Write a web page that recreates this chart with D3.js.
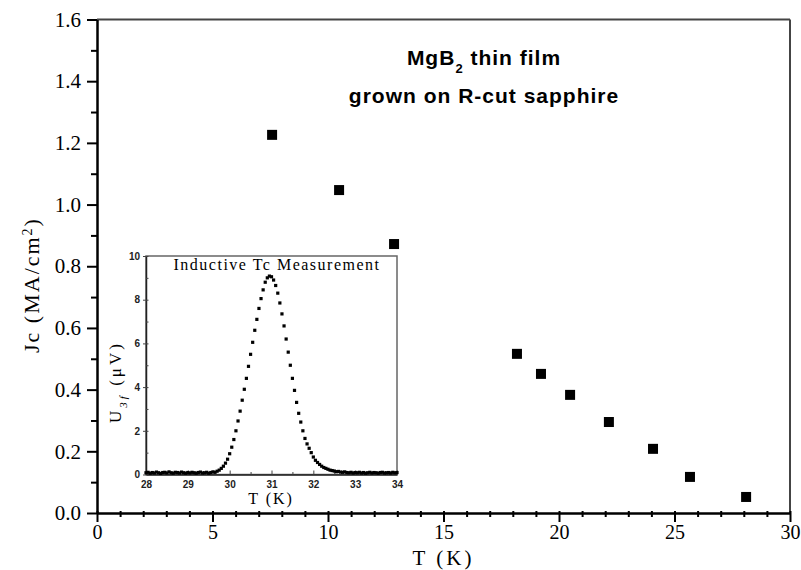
<!DOCTYPE html>
<html>
<head>
<meta charset="utf-8">
<script src="https://cdn.jsdelivr.net/npm/d3@7"></script>
<style>
  body { margin: 0; background: #fff; }
  svg { display: block; }
</style>
</head>
<body>
<div id="chart"></div>
<script>
// Main data: Jc vs T
const temps = [7.58, 10.48, 12.86, 18.18, 19.22, 20.48, 22.16, 24.07, 25.67, 28.1];
const jc = [1.226, 1.047, 0.872, 0.516, 0.451, 0.383, 0.295, 0.208, 0.117, 0.052];

// Inset data: U3f vs T
const insetT = [
  28.00, 28.05, 28.10, 28.15, 28.20, 28.25, 28.30, 28.35, 28.40, 28.45, 28.50, 28.55, 28.60, 28.65, 28.70, 28.75, 28.80, 28.85, 28.90, 28.95,
  29.00, 29.05, 29.10, 29.15, 29.20, 29.25, 29.30, 29.35, 29.40, 29.45, 29.50, 29.55, 29.60, 29.65, 29.70, 29.75, 29.80, 29.85, 29.90, 29.95,
  30.00, 30.05, 30.10, 30.15, 30.20, 30.25, 30.30, 30.35, 30.40, 30.45, 30.50, 30.55, 30.60, 30.65, 30.70, 30.75, 30.80, 30.85, 30.90, 30.95,
  31.00, 31.05, 31.10, 31.15, 31.20, 31.25, 31.30, 31.35, 31.40, 31.45, 31.50, 31.55, 31.60, 31.65, 31.70, 31.75, 31.80, 31.85, 31.90, 31.95,
  32.00, 32.05, 32.10, 32.15, 32.20, 32.25, 32.30, 32.35, 32.40, 32.45, 32.50, 32.55, 32.60, 32.65, 32.70, 32.75, 32.80, 32.85, 32.90, 32.95,
  33.00, 33.05, 33.10, 33.15, 33.20, 33.25, 33.30, 33.35, 33.40, 33.45, 33.50, 33.55, 33.60, 33.65, 33.70, 33.75, 33.80, 33.85, 33.90, 33.95, 34.00
];
const insetU = [
  0.08, 0.10, 0.06, 0.09, 0.07, 0.11, 0.08, 0.05, 0.09, 0.10, 0.07, 0.12, 0.08, 0.06, 0.10, 0.09, 0.07, 0.11, 0.08, 0.06,
  0.09, 0.07, 0.10, 0.08, 0.06, 0.09, 0.11, 0.07, 0.08, 0.10, 0.06, 0.09, 0.12, 0.10, 0.15, 0.20, 0.28, 0.38, 0.52, 0.70,
  0.95, 1.25, 1.60, 2.00, 2.45, 2.90, 3.40, 3.90, 4.40, 4.95, 5.50, 6.05, 6.60, 7.10, 7.60, 8.05, 8.45, 8.80, 9.00, 9.08,
  9.05, 8.90, 8.65, 8.30, 7.85, 7.35, 6.80, 6.20, 5.60, 5.00, 4.40, 3.85, 3.30, 2.80, 2.40, 2.00, 1.65, 1.40, 1.20, 1.00,
  0.80, 0.65, 0.55, 0.46, 0.38, 0.32, 0.28, 0.24, 0.20, 0.18, 0.16, 0.13, 0.14, 0.11, 0.10, 0.12, 0.09, 0.08, 0.10, 0.07,
  0.09, 0.08, 0.10, 0.07, 0.09, 0.06, 0.08, 0.10, 0.07, 0.09, 0.08, 0.06, 0.09, 0.10, 0.07, 0.08, 0.09, 0.07, 0.10, 0.08, 0.09
];

// Tick labels
const xTicks = [0, 5, 10, 15, 20, 25, 30];
const yTicks = [0.0, 0.2, 0.4, 0.6, 0.8, 1.0, 1.2, 1.4, 1.6];
const insetXTicks = [28, 29, 30, 31, 32, 33, 34];
const insetYTicks = [0, 2, 4, 6, 8, 10];

const width = 801, height = 570;
const serif = "'Liberation Serif', 'DejaVu Serif', serif";
const sans = "'Liberation Sans', Arial, sans-serif";

const svg = d3.select('#chart').append('svg')
  .attr('width', width)
  .attr('height', height);

// Main scales
const x = d3.scaleLinear().domain([0, 30]).range([97, 790]);
const y = d3.scaleLinear().domain([0, 1.6]).range([513, 19.5]);

// Frame (top/right)
svg.append('line').attr('x1', x(0)).attr('x2', x(30)).attr('y1', y(1.6)).attr('y2', y(1.6))
  .attr('stroke', '#444').attr('stroke-width', 2);
svg.append('line').attr('x1', x(30)).attr('x2', x(30)).attr('y1', y(1.6)).attr('y2', y(0))
  .attr('stroke', '#444').attr('stroke-width', 2);

// X axis
const xAxis = svg.append('g')
  .attr('transform', `translate(0, ${y(0)})`)
  .call(d3.axisBottom(x).tickValues(d3.range(0, 31, 1)).tickSize(0).tickFormat(''));
xAxis.select('.domain').attr('stroke', '#000').attr('stroke-width', 2.5);
xAxis.selectAll('.tick line')
  .attr('stroke', '#000').attr('stroke-width', 2)
  .attr('y1', -2)
  .attr('y2', d => xTicks.includes(d) ? 9 : 4);
svg.append('g')
  .attr('transform', `translate(0, ${y(0)})`)
  .call(d3.axisBottom(x).tickValues(xTicks).tickSize(0).tickPadding(12))
  .call(g => g.select('.domain').remove())
  .selectAll('text')
  .attr('font-family', serif).attr('font-size', 20).attr('fill', '#000');

// Y axis
const yAxis = svg.append('g')
  .attr('transform', `translate(${x(0)}, 0)`)
  .call(d3.axisLeft(y).tickValues(d3.range(0, 17, 1).map(v => v / 10)).tickSize(0).tickFormat(''));
yAxis.select('.domain').attr('stroke', '#000').attr('stroke-width', 2.5);
yAxis.selectAll('.tick line')
  .attr('stroke', '#000').attr('stroke-width', 2)
  .attr('x1', 0)
  .attr('x2', (d, i) => i % 2 === 0 ? -10 : -6);
svg.append('g')
  .attr('transform', `translate(${x(0)}, 0)`)
  .call(d3.axisLeft(y).tickValues(yTicks).tickSize(0).tickPadding(16).tickFormat(d3.format('.1f')))
  .call(g => g.select('.domain').remove())
  .selectAll('text')
  .attr('font-family', serif).attr('font-size', 21).attr('fill', '#000');

// Axis titles
svg.append('text')
  .attr('x', (x(0) + x(30)) / 2)
  .attr('y', 565)
  .attr('text-anchor', 'middle')
  .attr('font-family', serif).attr('font-size', 21).attr('letter-spacing', 3)
  .text('T (K)');

const yTitle = svg.append('text')
  .attr('transform', 'translate(39, 285) rotate(-90)')
  .attr('text-anchor', 'middle')
  .attr('font-family', serif).attr('font-size', 22).attr('letter-spacing', 2);
yTitle.append('tspan').text('Jc (MA/cm');
yTitle.append('tspan').attr('baseline-shift', 'super').attr('font-size', 14).text('2');
yTitle.append('tspan').text(')');

// Annotation
const ann1 = svg.append('text')
  .attr('x', 484).attr('y', 65)
  .attr('text-anchor', 'middle')
  .attr('font-family', sans).attr('font-weight', 'bold').attr('font-size', 21).attr('letter-spacing', 1);
ann1.append('tspan').text('MgB');
ann1.append('tspan').attr('baseline-shift', 'sub').attr('font-size', 13).text('2');
ann1.append('tspan').text(' thin film');
svg.append('text')
  .attr('x', 484).attr('y', 103)
  .attr('text-anchor', 'middle')
  .attr('font-family', sans).attr('font-weight', 'bold').attr('font-size', 21).attr('letter-spacing', 1)
  .text('grown on R-cut sapphire');

// Main markers
const ms = 10;
svg.append('g').selectAll('rect')
  .data(temps.map((t, i) => [t, jc[i]]))
  .join('rect')
  .attr('x', d => x(d[0]) - ms / 2)
  .attr('y', d => y(d[1]) - ms / 2)
  .attr('width', ms).attr('height', ms)
  .attr('fill', '#000');

// ---- Inset ----
const ix = d3.scaleLinear().domain([28, 34]).range([146, 397]);
const iy = d3.scaleLinear().domain([0, 10]).range([474.5, 256]);

svg.append('rect')
  .attr('x', ix(28)).attr('y', iy(10))
  .attr('width', ix(34) - ix(28)).attr('height', iy(0) - iy(10))
  .attr('fill', '#fff').attr('stroke', '#666').attr('stroke-width', 1.5);

const ixAxis = svg.append('g')
  .attr('transform', `translate(0, ${iy(0)})`)
  .call(d3.axisBottom(ix).tickValues(d3.range(28, 34.01, 0.5)).tickSize(0).tickFormat(''));
ixAxis.select('.domain').attr('stroke', '#222').attr('stroke-width', 1.5);
ixAxis.selectAll('.tick line').attr('stroke', '#444').attr('stroke-width', 1)
  .attr('y1', 0).attr('y2', d => Number.isInteger(d) ? -4 : -2.5);
svg.append('g')
  .attr('transform', `translate(0, ${iy(0)})`)
  .call(d3.axisBottom(ix).tickValues(insetXTicks).tickSize(0).tickPadding(6).tickFormat(d3.format('d')))
  .call(g => g.select('.domain').remove())
  .selectAll('text')
  .attr('font-family', sans).attr('font-weight', 'bold').attr('font-size', 10).attr('fill', '#222');

const iyAxis = svg.append('g')
  .attr('transform', `translate(${ix(28)}, 0)`)
  .call(d3.axisLeft(iy).tickValues(d3.range(0, 11, 1)).tickSize(0).tickFormat(''));
iyAxis.select('.domain').attr('stroke', '#222').attr('stroke-width', 1.5);
iyAxis.selectAll('.tick line').attr('stroke', '#444').attr('stroke-width', 1)
  .attr('x1', d => d % 2 === 0 ? -3 : 0).attr('x2', 2.5);
svg.append('g')
  .attr('transform', `translate(${ix(28)}, 0)`)
  .call(d3.axisLeft(iy).tickValues(insetYTicks).tickSize(0).tickPadding(6))
  .call(g => g.select('.domain').remove())
  .selectAll('text')
  .attr('font-family', sans).attr('font-weight', 'bold').attr('font-size', 10).attr('fill', '#222');

// Inset titles
svg.append('text')
  .attr('x', 277).attr('y', 270)
  .attr('text-anchor', 'middle')
  .attr('font-family', serif).attr('font-size', 16).attr('letter-spacing', 1.5)
  .text('Inductive Tc Measurement');

svg.append('text')
  .attr('x', 271).attr('y', 504)
  .attr('text-anchor', 'middle')
  .attr('font-family', serif).attr('font-size', 16).attr('letter-spacing', 2)
  .text('T (K)');

const iyTitle = svg.append('text')
  .attr('transform', 'translate(121, 382) rotate(-90)')
  .attr('text-anchor', 'middle')
  .attr('font-family', serif).attr('font-size', 17).attr('letter-spacing', 3);
iyTitle.append('tspan').text('U');
iyTitle.append('tspan').attr('baseline-shift', 'sub').attr('font-size', 11).attr('font-style', 'italic').text('3f');
iyTitle.append('tspan').text(' (μV)');

// Inset dots
const ds = 3.2;
svg.append('g').selectAll('rect')
  .data(insetT.map((t, i) => [t, insetU[i]]))
  .join('rect')
  .attr('x', d => ix(d[0]) - ds / 2)
  .attr('y', d => iy(d[1]) - ds / 2)
  .attr('width', ds).attr('height', ds)
  .attr('fill', '#000');
</script>
</body>
</html>
